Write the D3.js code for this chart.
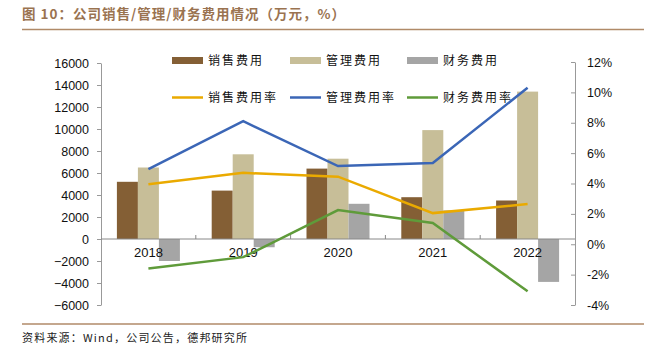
<!DOCTYPE html>
<html>
<head>
<meta charset="utf-8">
<script src="https://cdn.jsdelivr.net/npm/d3@7"></script>
<style>
  body { margin: 0; background: #fff; }
  svg { display: block; font-family: "Liberation Sans", Arial, sans-serif; }
</style>
</head>
<body>
<svg id="chart" width="653" height="359"></svg>
<script>
const years = ['2018', '2019', '2020', '2021', '2022']
// 万元
const salesExp = [5200, 4400, 6400, 3800, 3500]
const mgmtExp = [6500, 7700, 7300, 9900, 13400]
const finExp = [-2000, -750, 3200, 2600, -3900]
// %
const salesRate = [3.95, 4.7, 4.45, 2.05, 2.65]
const mgmtRate = [4.95, 8.1, 5.15, 5.35, 10.3]
const finRate = [-1.6, -0.85, 2.25, 1.4, -3.1]

const leftTicks = d3.range(-6000, 16001, 2000)
const rightTicks = d3.range(-4, 12.1, 2)

const barSeries = [
    { name: '销售费用', values: salesExp, color: '#845F35' },
    { name: '管理费用', values: mgmtExp, color: '#C7BE98' },
    { name: '财务费用', values: finExp, color: '#A5A5A5' }
]
const lineSeries = [
    { name: '销售费用率', values: salesRate, color: '#EAAA00' },
    { name: '管理费用率', values: mgmtRate, color: '#3B66B6' },
    { name: '财务费用率', values: finRate, color: '#5F9B3A' }
]

const svg = d3.select('#chart')
const brown = '#B08A68'
const cjk = '"Noto Sans CJK SC", sans-serif'

// title + rules
svg.append('text')
    .attr('x', 22).attr('y', 19)
    .attr('font-family', cjk)
    .attr('font-size', 13.5)
    .attr('font-weight', 'bold')
    .attr('letter-spacing', 1)
    .attr('fill', '#9A7350')
    .text('图 10：公司销售/管理/财务费用情况（万元，%）')
svg.append('line').attr('x1', 22).attr('x2', 644).attr('y1', 29.5).attr('y2', 29.5)
    .attr('stroke', brown).attr('stroke-width', 1.5)
svg.append('line').attr('x1', 22).attr('x2', 644).attr('y1', 324).attr('y2', 324)
    .attr('stroke', brown).attr('stroke-width', 1.5)
svg.append('text')
    .attr('x', 22).attr('y', 342)
    .attr('font-family', cjk)
    .attr('font-size', 11)
    .attr('letter-spacing', 1.2)
    .attr('fill', '#222')
    .text('资料来源：Wind，公司公告，德邦研究所')

// scales
const x0 = d3.scaleBand().domain(years).range([101, 575])
const x1 = d3.scaleBand().domain(barSeries.map(d => d.name)).range([-31.5, 31.5])
const y = d3.scaleLinear().domain([-6000, 16000]).range([305, 63])
const yR = d3.scaleLinear().domain([-4, 12]).range([305, 62])

// axes
const leftAxis = svg.append('g')
    .attr('transform', 'translate(101,0)')
    .call(d3.axisLeft(y).tickValues(leftTicks).tickSize(4).tickSizeOuter(0).tickPadding(8)
        .tickFormat(d3.format('d')))
const rightAxis = svg.append('g')
    .attr('transform', 'translate(575,0)')
    .call(d3.axisRight(yR).tickValues(rightTicks).tickSize(4).tickSizeOuter(0).tickPadding(8)
        .tickFormat(d => d + '%'))
for (const ax of [leftAxis, rightAxis]) {
    ax.select('.domain').attr('stroke', '#999')
    ax.selectAll('.tick line').attr('stroke', '#999')
    ax.selectAll('.tick text').attr('font-size', 12.5).attr('fill', '#111')
        .attr('font-family', '"Liberation Sans", Arial, sans-serif')
}
rightAxis.selectAll('.tick line').attr('x2', -4)

// bars
const groups = svg.append('g').selectAll('g')
    .data(years)
    .join('g')
    .attr('transform', d => `translate(${x0(d) + x0.bandwidth() / 2},0)`)
groups.selectAll('rect')
    .data((d, i) => barSeries.map(s => ({ name: s.name, v: s.values[i], color: s.color })))
    .join('rect')
    .attr('x', d => x1(d.name))
    .attr('width', x1.bandwidth())
    .attr('y', d => y(Math.max(0, d.v)))
    .attr('height', d => Math.abs(y(d.v) - y(0)))
    .attr('fill', d => d.color)

// category axis
const xAxis = svg.append('g')
    .attr('transform', `translate(0,${y(0)})`)
xAxis.append('line').attr('x1', 101).attr('x2', 575).attr('stroke', '#888')
xAxis.selectAll('.cat-tick')
    .data(years.slice(1))
    .join('line')
    .attr('x1', d => x0(d)).attr('x2', d => x0(d))
    .attr('y1', 0).attr('y2', -4)
    .attr('stroke', '#888')
xAxis.selectAll('text')
    .data(years)
    .join('text')
    .attr('x', d => x0(d) + x0.bandwidth() / 2)
    .attr('y', 18)
    .attr('text-anchor', 'middle')
    .attr('font-size', 13)
    .attr('fill', '#111')
    .text(d => d)

// lines
const line = d3.line()
    .x((d, i) => x0(years[i]) + x0.bandwidth() / 2)
    .y(d => yR(d))
svg.append('g').selectAll('path')
    .data(lineSeries)
    .join('path')
    .attr('d', d => line(d.values))
    .attr('fill', 'none')
    .attr('stroke', d => d.color)
    .attr('stroke-width', 2.5)

// legend
const legendX = [172, 290, 407]
const legend = svg.append('g').attr('font-family', cjk).attr('font-size', 12).attr('fill', '#111')
barSeries.forEach((s, i) => {
    legend.append('rect').attr('x', legendX[i]).attr('y', 57).attr('width', 31).attr('height', 7).attr('fill', s.color)
    legend.append('text').attr('x', legendX[i] + 36).attr('y', 65).attr('letter-spacing', 2).text(s.name)
})
lineSeries.forEach((s, i) => {
    legend.append('line').attr('x1', legendX[i]).attr('x2', legendX[i] + 31).attr('y1', 97.5).attr('y2', 97.5)
        .attr('stroke', s.color).attr('stroke-width', 2.5)
    legend.append('text').attr('x', legendX[i] + 36).attr('y', 102).attr('letter-spacing', 2).text(s.name)
})
</script>
</body>
</html>
